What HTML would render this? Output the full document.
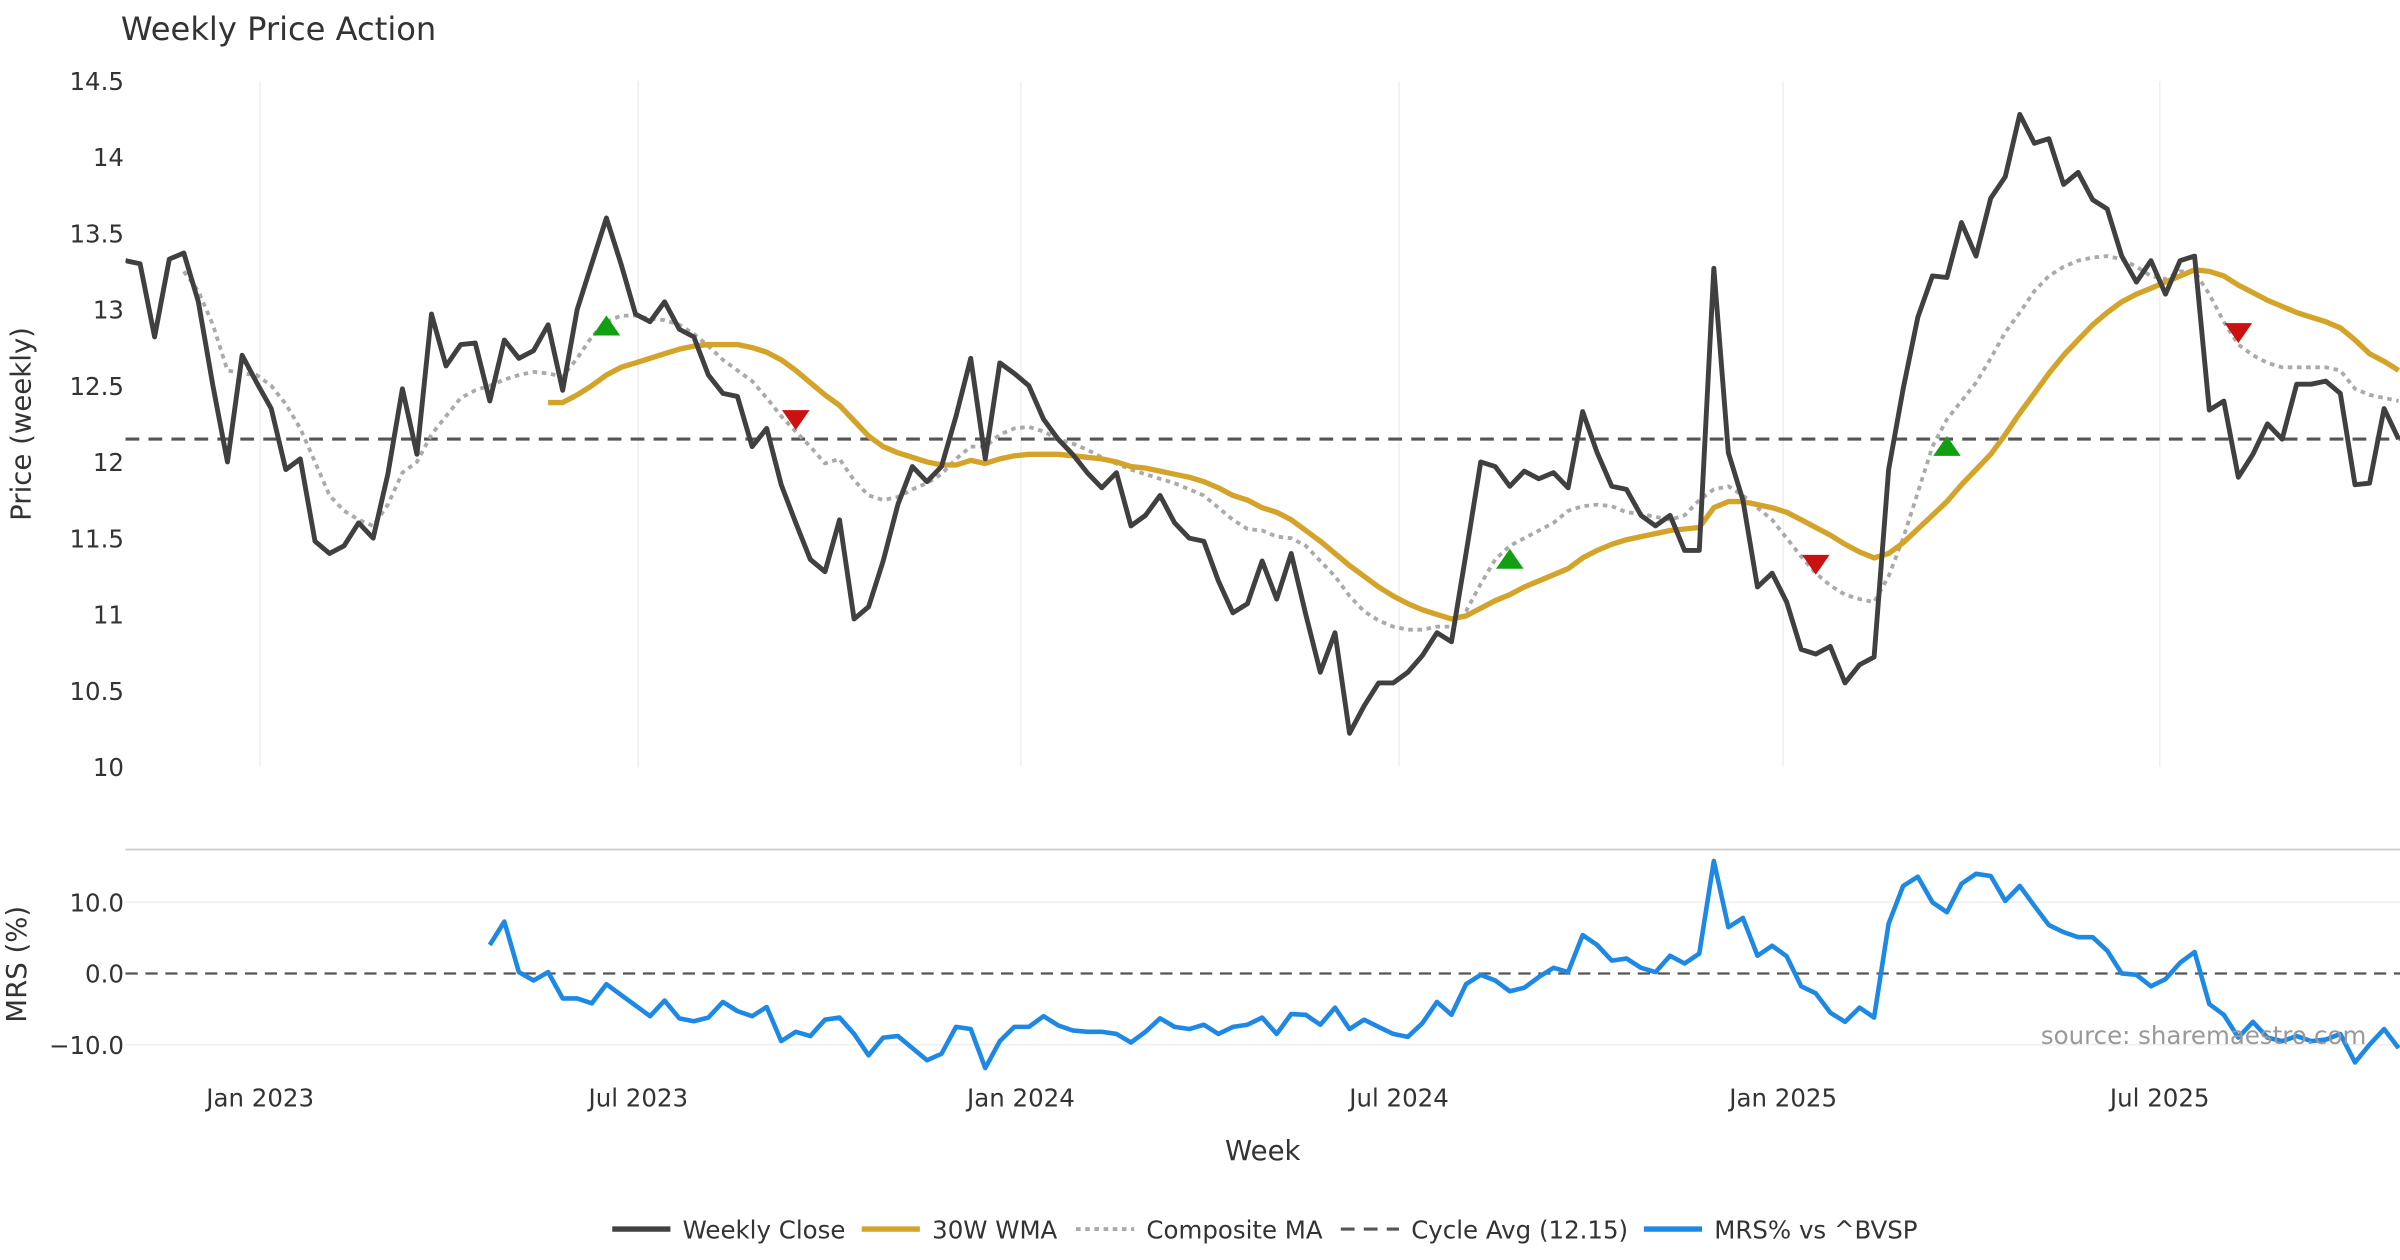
<!DOCTYPE html>
<html><head><meta charset="utf-8"><style>
html,body{margin:0;padding:0;background:#fff}
svg{display:block}
text{font-family:"DejaVu Sans","Liberation Sans",sans-serif;fill:#333}
</style></head><body>
<svg width="2400" height="1260" viewBox="0 0 1568 823.2" xmlns="http://www.w3.org/2000/svg">
<defs><clipPath id="cp"><rect x="82" y="40" width="1486" height="700"/></clipPath></defs>
<text x="79" y="26" font-size="21">Weekly Price Action</text>
<g id="axes"></g>
<g id="marks" clip-path="url(#cp)"></g>
<text transform="translate(20,277) rotate(-90)" text-anchor="middle" font-size="18">Price (weekly)</text>
<text transform="translate(17,630) rotate(-90)" text-anchor="middle" font-size="18">MRS (%)</text>
<text x="825" y="758" text-anchor="middle" font-size="18">Week</text>
<text x="1546" y="682" text-anchor="end" font-size="16" style="fill:#999">source: sharemaestro.com</text>
<g>
<line x1="400" y1="803" x2="438" y2="803" stroke="#404040" stroke-width="3.5"/><text x="446" y="809" font-size="16">Weekly Close</text>
<line x1="563" y1="803" x2="601" y2="803" stroke="#d4a32a" stroke-width="3.5"/><text x="609" y="809" font-size="16">30W WMA</text>
<line x1="703" y1="803" x2="741" y2="803" stroke="#aaa" stroke-width="2.5" stroke-dasharray="3,3"/><text x="749" y="809" font-size="16">Composite MA</text>
<line x1="876" y1="803" x2="914" y2="803" stroke="#555" stroke-width="2" stroke-dasharray="9,6"/><text x="922" y="809" font-size="16">Cycle Avg (12.15)</text>
<line x1="1074" y1="803" x2="1112" y2="803" stroke="#1e88e5" stroke-width="3.5"/><text x="1120" y="809" font-size="16">MRS% vs ^BVSP</text>
</g>
</svg>
<script>
const close=[13.32,13.3,12.82,13.33,13.37,13.05,12.5,12.0,12.7,12.52,12.35,11.95,12.02,11.48,11.4,11.45,11.6,11.5,11.92,12.48,12.05,12.97,12.63,12.77,12.78,12.4,12.8,12.68,12.73,12.9,12.47,13.0,13.3,13.6,13.3,12.97,12.92,13.05,12.87,12.82,12.57,12.45,12.43,12.1,12.22,11.85,11.6,11.36,11.28,11.62,10.97,11.05,11.35,11.72,11.97,11.87,11.97,12.3,12.68,12.02,12.65,12.58,12.5,12.28,12.15,12.05,11.93,11.83,11.93,11.58,11.65,11.78,11.6,11.5,11.48,11.22,11.01,11.07,11.35,11.1,11.4,11.0,10.62,10.88,10.22,10.4,10.55,10.55,10.62,10.73,10.88,10.82,11.4,12.0,11.97,11.84,11.94,11.89,11.93,11.83,12.33,12.06,11.84,11.82,11.65,11.58,11.65,11.42,11.42,13.27,12.06,11.75,11.18,11.27,11.08,10.77,10.74,10.79,10.55,10.67,10.72,11.95,12.48,12.95,13.22,13.21,13.57,13.35,13.73,13.87,14.28,14.09,14.12,13.82,13.9,13.72,13.66,13.35,13.18,13.32,13.1,13.32,13.35,12.34,12.4,11.9,12.05,12.25,12.15,12.51,12.51,12.53,12.45,11.85,11.86,12.35,12.15];
const wmaStart=29;
const wma=[12.39,12.39,12.44,12.5,12.57,12.62,12.65,12.68,12.71,12.74,12.76,12.77,12.77,12.77,12.75,12.72,12.67,12.6,12.52,12.44,12.37,12.27,12.17,12.1,12.06,12.03,12.0,11.98,11.98,12.01,11.99,12.02,12.04,12.05,12.05,12.05,12.04,12.03,12.02,12.0,11.97,11.96,11.94,11.92,11.9,11.87,11.83,11.78,11.75,11.7,11.67,11.62,11.55,11.48,11.4,11.32,11.25,11.18,11.12,11.07,11.03,11.0,10.97,10.99,11.04,11.09,11.13,11.18,11.22,11.26,11.3,11.37,11.42,11.46,11.49,11.51,11.53,11.55,11.56,11.57,11.7,11.74,11.74,11.72,11.7,11.67,11.62,11.57,11.52,11.46,11.41,11.37,11.4,11.47,11.56,11.65,11.74,11.85,11.95,12.05,12.18,12.32,12.45,12.58,12.7,12.8,12.9,12.98,13.05,13.1,13.14,13.18,13.22,13.26,13.25,13.22,13.16,13.11,13.06,13.02,12.98,12.95,12.92,12.88,12.8,12.71,12.66,12.6];
const compStart=4;
const comp=[13.25,13.12,12.9,12.6,12.58,12.57,12.5,12.38,12.22,12.0,11.78,11.68,11.62,11.58,11.72,11.93,12.0,12.18,12.3,12.42,12.47,12.5,12.54,12.57,12.59,12.58,12.56,12.68,12.82,12.92,12.96,12.96,12.94,12.93,12.9,12.84,12.76,12.67,12.6,12.53,12.42,12.3,12.2,12.1,11.99,12.02,11.88,11.78,11.75,11.77,11.82,11.86,11.92,12.02,12.1,12.1,12.18,12.22,12.23,12.2,12.15,12.12,12.08,12.03,11.99,11.95,11.92,11.89,11.86,11.82,11.78,11.7,11.62,11.56,11.55,11.51,11.5,11.45,11.35,11.25,11.12,11.02,10.96,10.92,10.9,10.9,10.92,10.92,11.02,11.2,11.36,11.45,11.5,11.55,11.6,11.68,11.71,11.72,11.71,11.67,11.66,11.64,11.62,11.65,11.75,11.82,11.84,11.78,11.7,11.62,11.5,11.38,11.27,11.19,11.13,11.1,11.08,11.25,11.5,11.8,12.1,12.28,12.4,12.52,12.68,12.85,12.98,13.12,13.22,13.28,13.32,13.34,13.35,13.33,13.28,13.22,13.2,13.25,13.25,13.1,12.92,12.77,12.7,12.65,12.62,12.62,12.62,12.62,12.6,12.48,12.44,12.42,12.4];
const mrsStart=25;
const mrs=[4,7.3,0.2,-1,0.2,-3.5,-3.5,-4.2,-1.5,-3,-4.5,-6,-3.8,-6.3,-6.7,-6.2,-4,-5.3,-6,-4.7,-9.5,-8.2,-8.8,-6.5,-6.2,-8.5,-11.5,-9,-8.8,-10.5,-12.2,-11.3,-7.5,-7.8,-13.3,-9.5,-7.5,-7.5,-6,-7.3,-8,-8.2,-8.2,-8.5,-9.7,-8.2,-6.3,-7.5,-7.8,-7.2,-8.5,-7.5,-7.2,-6.2,-8.5,-5.7,-5.8,-7.2,-4.8,-7.8,-6.5,-7.5,-8.5,-8.9,-7,-4,-5.8,-1.5,-0.2,-1,-2.5,-2,-0.5,0.8,0.2,5.4,4,1.8,2.1,0.8,0.2,2.5,1.4,2.8,15.8,6.5,7.8,2.5,3.9,2.4,-1.8,-2.8,-5.5,-6.8,-4.8,-6.2,7,12.3,13.6,10,8.6,12.6,14,13.7,10.2,12.3,9.5,6.8,5.8,5.1,5.1,3.2,0,-0.2,-1.8,-0.8,1.5,3,-4.3,-5.8,-9,-6.8,-9,-9.5,-8.8,-9.5,-9.3,-8.5,-12.5,-10,-7.8,-10.5];
const buyIdx=[33,95,125];
const buyVal=[12.89,11.36,12.1];
const sellIdx=[46,116,145];
const sellVal=[12.28,11.33,12.85];
const cycleAvg=12.15;
const priceTicks=[10,10.5,11,11.5,12,12.5,13,13.5,14,14.5];
const priceTickLabels=["10","10.5","11","11.5","12","12.5","13","13.5","14","14.5"];
const mrsTicks=[10,0,-10];
const mrsTickLabels=["10.0","0.0","\u221210.0"];
const dateTickIdx=[9.24,35.19,61.45,87.4,113.76,139.6];
const dateTickLabels=["Jan 2023","Jul 2023","Jan 2024","Jul 2024","Jan 2025","Jul 2025"];

const NS="http://www.w3.org/2000/svg";
const X=i=>82+9.52*i;
const Y=v=>501-(v-10)*99.6;
const M=v=>636-v*4.65;
const axes=document.getElementById('axes'),marks=document.getElementById('marks');
function mk(tag,at,parent){const e=document.createElementNS(NS,tag);for(const k in at)e.setAttribute(k,at[k]);parent.appendChild(e);return e;}
priceTicks.forEach((v,k)=>{
  const t=mk('text',{x:81,y:Y(v)+6,'text-anchor':'end','font-size':16},axes);
  t.textContent=priceTickLabels[k];
  
  
});
mrsTicks.forEach((v,k)=>{
  const t=mk('text',{x:81,y:M(v)+6,'text-anchor':'end','font-size':16},axes);
  t.textContent=mrsTickLabels[k];
  
  
  if(v!==0){const g=mk('line',{x1:82,x2:1568,y1:M(v),y2:M(v),stroke:'#eee','stroke-width':1},axes);
  
  }
});
dateTickIdx.forEach((d,k)=>{
  const g=mk('line',{x1:X(d),x2:X(d),y1:53,y2:501,stroke:'#eef0f2','stroke-width':1},axes);
  
  
  const t=mk('text',{x:X(d),y:723,'text-anchor':'middle','font-size':16},axes);
  t.textContent=dateTickLabels[k];
  
  
});
const sep=mk('line',{x1:82,x2:1568,y1:555,y2:555,stroke:'#ccc','stroke-width':1.2},axes);


function poly(arr,start,fy,attrs,name){
  const pts=arr.map((v,i)=>X(i+start).toFixed(1)+','+fy(v).toFixed(1)).join(' ');
  const p=mk('polyline',Object.assign({points:pts,fill:'none','stroke-linejoin':'round'},attrs),marks);
  
  
}
const ca=mk('line',{x1:82,x2:1568,y1:Y(cycleAvg),y2:Y(cycleAvg),stroke:'#555','stroke-width':2,'stroke-dasharray':'9,6'},marks);


const zl=mk('line',{x1:82,x2:1568,y1:M(0),y2:M(0),stroke:'#555','stroke-width':1.5,'stroke-dasharray':'8,5'},marks);


poly(comp,compStart,Y,{stroke:'#aaa','stroke-width':2.5,'stroke-dasharray':'3,3'},'composite-ma-line');
poly(wma,wmaStart,Y,{stroke:'#d4a32a','stroke-width':3.5},'wma-line');
poly(close,0,Y,{stroke:'#404040','stroke-width':3.2},'weekly-close-line');
poly(mrs,mrsStart,M,{stroke:'#1e88e5','stroke-width':3},'mrs-line');
buyIdx.forEach((d,k)=>{const x=X(d),y=Y(buyVal[k]);
  const p=mk('polygon',{points:`${x-9},${y+6} ${x+9},${y+6} ${x},${y-7}`,fill:'#12a012'},marks);
  
  });
sellIdx.forEach((d,k)=>{const x=X(d),y=Y(sellVal[k]);
  const p=mk('polygon',{points:`${x-9},${y-6} ${x+9},${y-6} ${x},${y+7}`,fill:'#cc1111'},marks);
  
  });
</script>
</body></html>
